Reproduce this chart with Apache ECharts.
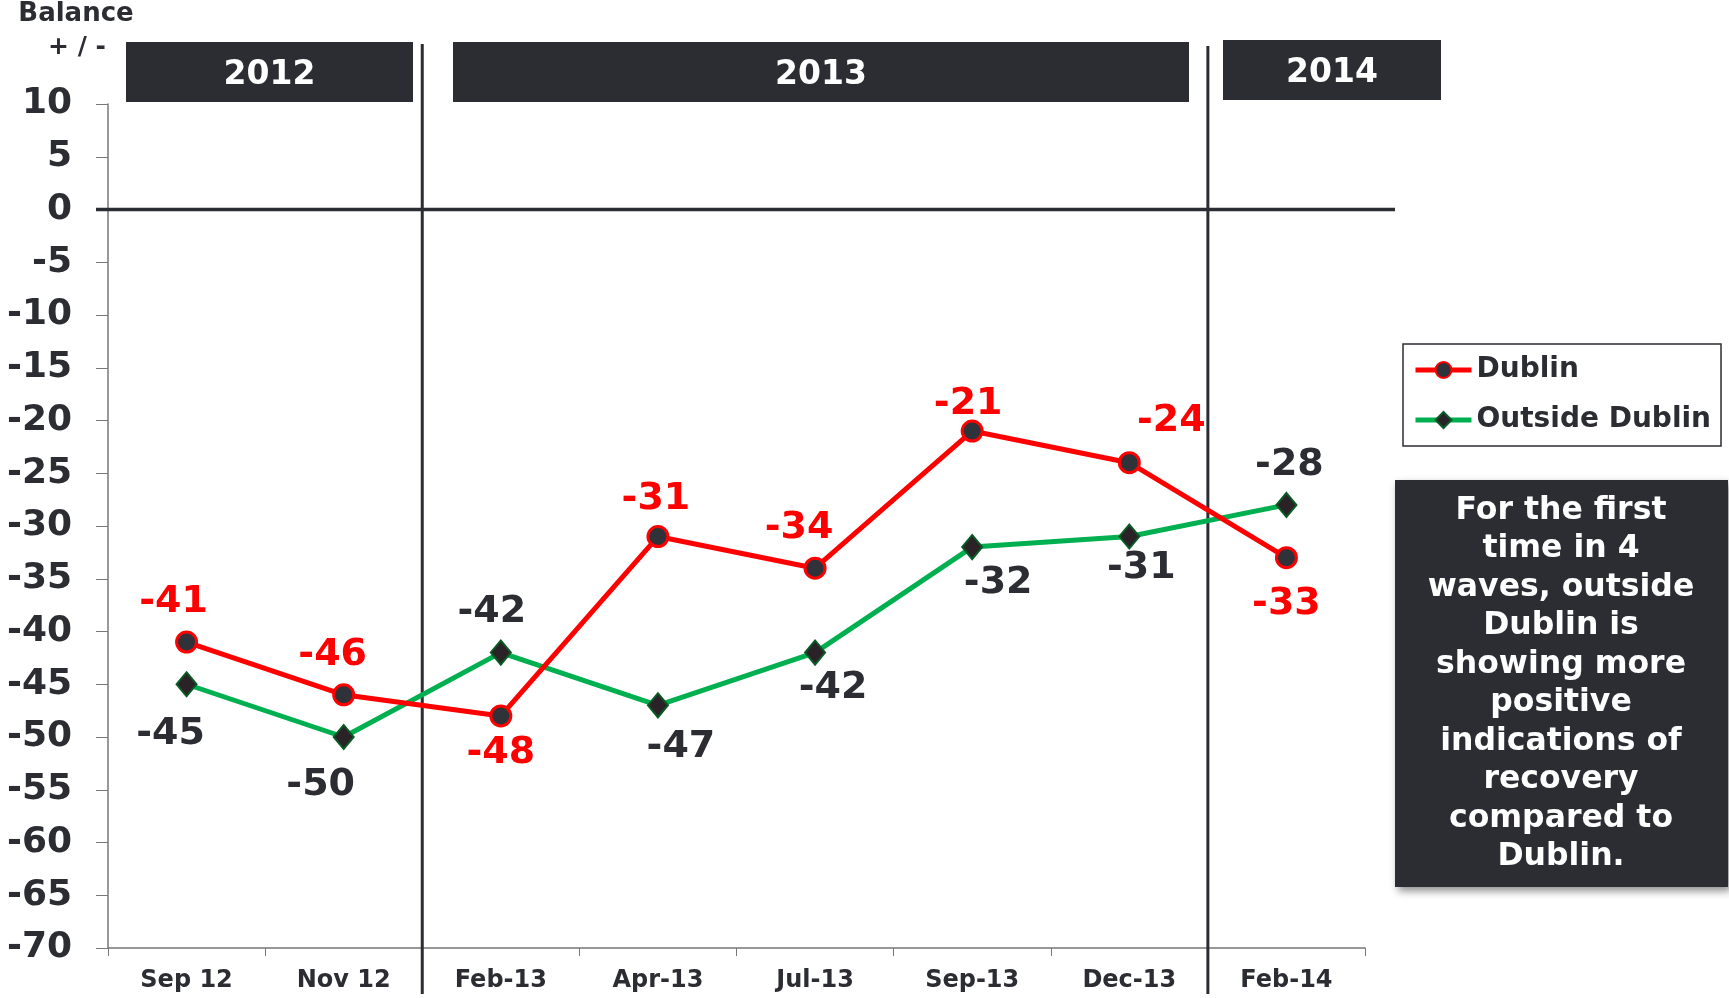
<!DOCTYPE html>
<html>
<head>
<meta charset="utf-8">
<script src="https://cdn.jsdelivr.net/npm/echarts@6/dist/echarts.min.js"></script>
<style>
  html, body { margin: 0; padding: 0; background: #fff; }
  #chart { width: 1729px; height: 998px; }
</style>
</head>
<body>
<div id="chart"></div>
<script>
  // data
  const categories = ['Sep 12', 'Nov 12', 'Feb-13', 'Apr-13', 'Jul-13', 'Sep-13', 'Dec-13', 'Feb-14']
  const dublin = [-41, -46, -48, -31, -34, -21, -24, -33]
  const outsideDublin = [-45, -50, -42, -47, -42, -32, -31, -28]
  const years = ['2012', '2013', '2014']
  const note = 'For the first\ntime in 4\nwaves, outside\nDublin is\nshowing more\npositive\nindications of\nrecovery\ncompared to\nDublin.'

  const dark = '#2b2d33'
  const red = '#ff0000'
  const green = '#00b050'
  const font = 'DejaVu Sans'

  // label nudges (px) so labels sit where the original put them
  const dublinLabelOffsets = [[-13, -40], [-11, -40], [0, 37], [-2, -37], [-16, -40], [-4, -27], [42, -42], [0, 46]]
  const outsideLabelOffsets = [[-16, 50], [-23, 48], [-9, -40], [23, 42], [18, 36], [26, 36], [12, 32], [3, -40]]

  const buildData = (values, offsets) =>
    values.map((v, i) => ({
      value: v,
      label: { offset: offsets[i] }
    }))

  const chart = echarts.init(document.getElementById('chart'))

  const option = {
    animation: false,
    textStyle: { fontFamily: font },
    grid: { left: 108, right: 364, top: 104, bottom: 50 },
    legend: {
      orient: 'vertical',
      left: 1403,
      top: 344,
      padding: [12, 10, 12, 10],
      itemGap: 22,
      itemWidth: 56,
      itemHeight: 20,
      borderColor: dark,
      borderWidth: 1.5,
      lineStyle: { width: 5 },
      textStyle: { fontFamily: font, fontSize: 28, fontWeight: 'bold', color: dark },
      data: ['Dublin', 'Outside Dublin']
    },
    xAxis: {
      type: 'category',
      data: categories,
      boundaryGap: true,
      axisLine: { onZero: false, lineStyle: { color: '#777', width: 1.5 } },
      axisTick: { show: true, length: 8, lineStyle: { color: '#777' } },
      axisLabel: {
        margin: 21,
        fontFamily: font,
        fontSize: 24,
        fontWeight: 'bold',
        color: dark
      }
    },
    yAxis: {
      type: 'value',
      min: -70,
      max: 10,
      interval: 5,
      splitLine: { show: false },
      axisLine: { show: true, lineStyle: { color: '#777', width: 1.5 } },
      axisTick: { show: true, length: 12, lineStyle: { color: '#777' } },
      axisLabel: {
        margin: 36,
        fontFamily: font,
        fontSize: 36,
        fontWeight: 'bold',
        color: dark
      }
    },
    series: [
      {
        name: 'Dublin',
        type: 'line',
        data: buildData(dublin, dublinLabelOffsets),
        symbol: 'circle',
        symbolSize: 20,
        lineStyle: { color: red, width: 5 },
        itemStyle: { color: '#30323a', borderColor: red, borderWidth: 3 },
        label: {
          show: true,
          position: 'inside',
          fontFamily: font,
          fontSize: 38,
          fontWeight: 'bold',
          color: red
        },
        z: 3
      },
      {
        name: 'Outside Dublin',
        type: 'line',
        data: buildData(outsideDublin, outsideLabelOffsets),
        symbol: 'diamond',
        symbolSize: [20, 24],
        lineStyle: { color: green, width: 5 },
        itemStyle: { color: '#2a2226', borderColor: '#0a5a25', borderWidth: 2 },
        label: {
          show: true,
          position: 'inside',
          fontFamily: font,
          fontSize: 38,
          fontWeight: 'bold',
          color: dark
        },
        z: 2
      }
    ]
  }

  chart.setOption(option)

  // dividers and zero line placed from the chart's own scales
  const xAt = (i) => chart.convertToPixel({ xAxisIndex: 0 }, i)
  const zeroY = chart.convertToPixel({ yAxisIndex: 0 }, 0)
  const div1 = (xAt(1) + xAt(2)) / 2
  const div2 = (xAt(6) + xAt(7)) / 2

  const yearBox = (text, x, y, w, h) => ({
    type: 'group',
    children: [
      { type: 'rect', shape: { x: x, y: y, width: w, height: h }, style: { fill: dark } },
      {
        type: 'text',
        x: x + w / 2,
        y: y + h / 2 + 3,
        style: {
          text: text,
          fill: '#fff',
          font: 'bold 33px "DejaVu Sans"',
          textAlign: 'center',
          textVerticalAlign: 'middle'
        }
      }
    ]
  })

  chart.setOption({
    graphic: [
      {
        type: 'line',
        shape: { x1: 96, y1: zeroY, x2: 1395, y2: zeroY },
        style: { stroke: dark, lineWidth: 3.5 },
        z: 1
      },
      {
        type: 'line',
        shape: { x1: div1, y1: 44, x2: div1, y2: 994 },
        style: { stroke: dark, lineWidth: 3 },
        z: 1
      },
      {
        type: 'line',
        shape: { x1: div2, y1: 46, x2: div2, y2: 994 },
        style: { stroke: dark, lineWidth: 3 },
        z: 1
      },
      yearBox(years[0], 126, 42, 287, 60),
      yearBox(years[1], 453, 42, 736, 60),
      yearBox(years[2], 1223, 40, 218, 60),
      {
        type: 'text',
        x: 76,
        y: 14,
        style: {
          text: 'Balance',
          fill: dark,
          font: 'bold 26px "DejaVu Sans"',
          textAlign: 'center',
          textVerticalAlign: 'middle'
        }
      },
      {
        type: 'text',
        x: 77,
        y: 47,
        style: {
          text: '+ / -',
          fill: dark,
          font: 'bold 25px "DejaVu Sans"',
          textAlign: 'center',
          textVerticalAlign: 'middle'
        }
      },
      {
        type: 'rect',
        shape: { x: 1395, y: 480, width: 333, height: 407 },
        style: {
          fill: dark,
          shadowBlur: 8,
          shadowOffsetX: 3,
          shadowOffsetY: 4,
          shadowColor: 'rgba(0,0,0,0.45)'
        }
      },
      {
        type: 'text',
        x: 1561,
        y: 684,
        style: {
          text: note,
          fill: '#fff',
          font: 'bold 31.5px "DejaVu Sans"',
          lineHeight: 38.5,
          textAlign: 'center',
          textVerticalAlign: 'middle'
        }
      }
    ]
  })
</script>
</body>
</html>
